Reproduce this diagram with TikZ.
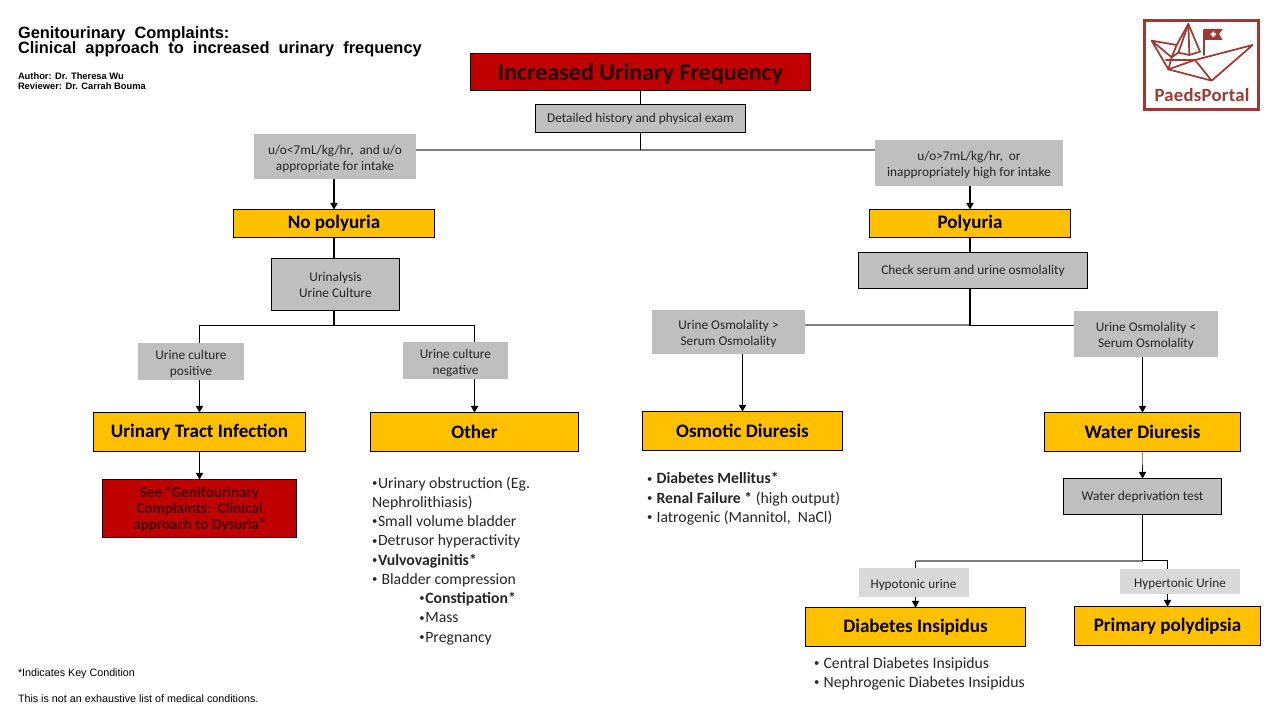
\documentclass[tikz,border=0pt]{standalone}
\usepackage{fontspec}
\setmainfont{Carlito}
\newfontfamily\arialf{Liberation Sans}
\usetikzlibrary{arrows.meta,calc}
\definecolor{gold}{HTML}{FFC000}
\definecolor{midgray}{HTML}{BFBFBF}
\definecolor{lightgray2}{HTML}{D9D9D9}
\definecolor{deepred}{HTML}{C00000}
\definecolor{wine}{HTML}{9E3A34}
\definecolor{ink}{HTML}{262626}
\definecolor{wire}{HTML}{7F7F7F}
\newcommand\bul{\makebox[4.5pt][l]{\fontsize{8}{8}\selectfont\raisebox{1.3pt}{•}}}
\newcommand\bulw{\makebox[7.2pt][l]{\fontsize{8}{8}\selectfont\raisebox{1.3pt}{•}}}
\newcommand\lo{\rule{0pt}{10.2pt}}
\newcommand\tightlines{\lineskiplimit=-6pt\relax}
\tikzset{
  sz/.style 2 args={minimum width=#1*0.75pt,minimum height=#2*0.75pt},
  base/.style={inner sep=0pt,outer sep=0pt,align=center,anchor=center},
  redbox/.style={base,fill=deepred,draw=black,line width=0.8pt},
  goldbox/.style={base,fill=gold,draw=black,line width=0.8pt,text=black,font=\fontsize{14.3}{17}\selectfont\bfseries},
  graybox/.style={base,fill=midgray,draw=black,line width=0.8pt,text=ink,font=\fontsize{10}{12}\selectfont},
  condbox/.style={base,fill=midgray,text=ink,font=\fontsize{10}{12.2}\selectfont},
  palebox/.style={base,fill=lightgray2,text=ink,font=\fontsize{9.9}{12}\selectfont},
  listtext/.style={inner sep=0pt,outer sep=0pt,anchor=north west,align=left,text=ink,font=\fontsize{11.8}{14.45}\selectfont},
  plain/.style={inner sep=0pt,outer sep=0pt,anchor=north west,align=left,text=black},
  link/.style={draw=black,line width=1.1pt},
  thinlink/.style={draw=black,line width=0.8pt},
  greywire/.style={draw=wire,line width=1.5pt},
  arrowlink/.style={draw=black,line width=0.8pt,-{Triangle[length=5pt,width=5.5pt]}},
  boatline/.style={draw=wine,line width=1.3pt,line join=round,line cap=round},
}
\begin{document}
\begin{tikzpicture}[x=0.75pt,y=-0.75pt]
\useasboundingbox (0,0) rectangle (1280,720);
\fill[white] (0,0) rectangle (1280,720);

% header
\node[plain,font=\arialf\bfseries\fontsize{12.3}{11.3}\selectfont] (title) at (18,26.8) {\tightlines
  Genitourinary\ \ Complaints:\\[-1.5pt]Clinical\ \ approach\ \ to\ \ increased\ \ urinary\ \ frequency};
\node[plain,font=\arialf\bfseries\fontsize{7}{7.3}\selectfont] (credits) at (18,73) {\tightlines
  Author: Dr. Theresa Wu\\Reviewer: Dr. Carrah Bouma};

% nodes
\node[redbox,sz={340}{37},font=\fontsize{18}{22}\selectfont\bfseries,text=black!88!red] (top) at (640.5,72) {\rule{0pt}{15.5pt}Increased Urinary Frequency};
\node[graybox,sz={210}{28}] (hist) at (640.5,118.5) {Detailed history and physical exam};
\node[condbox,sz={162}{45}] (uoL) at (335,156.5) {\lo u/o<7mL/kg/hr,\ \ and u/o\\appropriate for intake};
\node[condbox,sz={188}{46}] (uoR) at (969,163) {\lo u/o>7mL/kg/hr,\ \ or\\inappropriately high for intake};
\node[goldbox,sz={201}{28}] (nop) at (334,223.5) {No polyuria};
\node[goldbox,sz={201}{28}] (pol) at (970,223.5) {Polyuria};
\node[graybox,sz={128}{52}] (ua) at (335.5,284.5) {Urinalysis\\Urine Culture};
\node[graybox,sz={229}{36}] (chk) at (973,270.5) {Check serum and urine osmolality};
\node[condbox,sz={106}{37}] (pos) at (191,361.5) {\lo Urine culture\\positive};
\node[condbox,sz={105}{37}] (neg) at (455.5,360.5) {\lo Urine culture\\negative};
\node[condbox,sz={153}{44}] (osmG) at (728.5,332) {\lo Urine Osmolality >\\Serum Osmolality};
\node[condbox,sz={144}{46}] (osmL) at (1146,334) {\lo Urine Osmolality <\\Serum Osmolality};
\node[goldbox,sz={212}{39}] (uti) at (199.5,432) {Urinary Tract Infection};
\node[goldbox,sz={208}{39}] (oth) at (474.5,432) {Other};
\node[goldbox,sz={200}{39}] (osd) at (742.5,431) {Osmotic Diuresis};
\node[goldbox,sz={196}{39}] (wad) at (1142.5,432) {Water Diuresis};
\node[redbox,sz={194}{58},font=\fontsize{11.3}{12}\selectfont\bfseries,text=deepred!35!black] (see) at (199.5,508.5) {\rule{0pt}{9.6pt}See “Genitourinary\\Complaints:\ \ Clinical\\approach to Dysuria”};
\node[graybox,sz={158}{36}] (wdt) at (1142.5,496.5) {Water deprivation test};
\node[palebox,sz={110}{29}] (hypo) at (913.5,582.5) {\lo Hypotonic urine};
\node[palebox,sz={120}{25}] (hyper) at (1180,581.5) {\lo Hypertonic Urine};
\node[goldbox,sz={220}{39}] (di) at (915.5,627) {Diabetes Insipidus};
\node[goldbox,sz={186}{39}] (pp) at (1167.5,626) {Primary polydipsia};

% lists
\node[listtext] (othlist) at (372,476.5) {%
\bul Urinary obstruction (Eg.\\Nephrolithiasis)\\\bul Small volume bladder\\\bul Detrusor hyperactivity\\%
\bul\textbf{Vulvovaginitis*}\\\bul\ Bladder compression\\%
\hspace*{35.5pt}\bul\textbf{Constipation*}\\\hspace*{35.5pt}\bul Mass\\\hspace*{35.5pt}\bul Pregnancy};
\node[listtext] (osdlist) at (647,472.5) {%
\bulw\textbf{Diabetes Mellitus*}\\\bulw\textbf{Renal Failure *} (high output)\\\bulw Iatrogenic (Mannitol,\ \ NaCl)};
\node[listtext] (dilist) at (814,657.5) {%
\bulw Central Diabetes Insipidus\\\bulw Nephrogenic Diabetes Insipidus};
\node[plain,font=\arialf\fontsize{8.05}{9}\selectfont] (key) at (18,668.5) {*Indicates Key Condition};
\node[plain,font=\arialf\fontsize{8.05}{9}\selectfont] (note) at (18,694.5) {This is not an exhaustive list of medical conditions.};

% junctions
\coordinate (j1) at (hist.south |- 0,150);
\coordinate (j2) at (nop.south |- 0,325.5);
\coordinate (j3) at (pol.south |- 0,325);
\coordinate (j3b) at (pol.south |- 0,325.5);
\coordinate (j4) at (wdt.south |- 0,561);
\coordinate (j4b) at (wdt.south |- 0,560.5);
\coordinate (wadmid) at (wad.south |- 0,465);

% connectors
\draw[link] (top.south -| hist.north) -- (hist.north);
\draw[greywire] (j1 -| uoL.east) -- (j1 -| uoR.west);
\draw[link] (hist.south) -- (j1);
\draw[arrowlink] (uoL.south -| nop.north) -- (nop.north);
\draw[arrowlink] (uoR.south -| pol.north) -- (pol.north);
\draw[link] (nop.south) -- (nop.south |- ua.north);
\draw[link] (pol.south) -- (pol.south |- chk.north);
\draw[link] (ua.south -| j2) -- (j2);
\draw[thinlink] (uti.north |- pos.north) -- (uti.north |- j2) -- (oth.north |- j2) -- (oth.north |- neg.north);
\draw[arrowlink] (pos.south -| uti.north) -- (uti.north);
\draw[arrowlink] (neg.south -| oth.north) -- (oth.north);
\draw[arrowlink] (see.north |- uti.south) -- (see.north);
\draw[greywire] (j3) -- (j3 -| osmG.east);
\draw[thinlink] (j3b) -- (j3b -| osmL.west);
\draw[link,line width=1.3pt] (chk.south -| j3) -- (j3b);
\draw[arrowlink] (osmG.south -| osd.north) -- (osd.north);
\draw[arrowlink] (osmL.south -| wad.north) -- (wad.north);
\draw[draw=wire,line width=0.9pt] (wad.south) -- (wadmid);
\draw[arrowlink] (wadmid) -- (wdt.north);
\draw[greywire] (j4) -- (j4 -| di.north);
\draw[thinlink] (j4b) -- (j4b -| pp.north) -- (pp.north |- hyper.north);
\draw[thinlink] (wdt.south) -- (j4);
\draw[thinlink] (j4 -| di.north) -- (di.north |- hypo.north);
\draw[arrowlink] (hypo.south -| di.north) -- (di.north);
\draw[arrowlink] (hyper.south -| pp.north) -- (pp.north);

% logo
\draw[wine,line width=2.2pt] (1144.5,20.5) rectangle (1258.5,109.5);
\node[inner sep=0pt,outer sep=0pt,text=wine,font=\fontsize{14}{16}\selectfont\bfseries] (logotext) at (1202,95.5) {\addfontfeature{LetterSpace=1.5}PaedsPortal};
\begin{scope}[shift={(1130,10)},x=0.25pt,y=-0.25pt]
  \draw[boatline] (65,92) -- (140,105) -- (125,142) -- cycle;
  \foreach \a/\b/\c/\d in {80,98,118,135, 95,100,125,130, 110,102,130,122, 122,104,134,114}
    \draw[wine,line width=0.9pt] (\a,\b) -- (\c,\d);
  \draw[boatline] (140,105) -- (175,42) -- (210,125) -- (178,135) -- (145,128);
  \draw[boatline] (175,42) -- (178,135);
  \draw[boatline] (175,42) -- (145,128) -- (125,142);
  \draw[boatline] (65,92) -- (115,178) -- (245,212) -- (368,105) -- (195,150) -- (245,212);
  \draw[boatline] (115,178) -- (195,150) -- (108,150);
  \draw[boatline] (125,142) -- (115,178);
  \draw[boatline] (222,60) -- (222,135);
  \fill[wine] (222,57) -- (278,57) -- (267,72) -- (278,90) -- (222,90) -- cycle;
  \fill[white] (247,65) rectangle (253,81) (242,70) rectangle (258,76);
\end{scope}
\end{tikzpicture}
\end{document}
